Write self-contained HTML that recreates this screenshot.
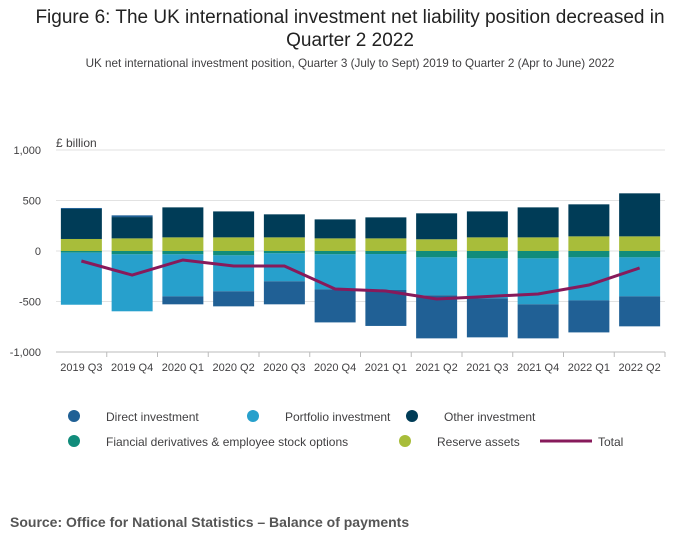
<!DOCTYPE html>
<html><head><meta charset="utf-8"><style>
body{margin:0;width:700px;height:549px;background:#fff;font-family:"Liberation Sans",sans-serif;overflow:hidden}
.t{position:absolute;left:0;width:700px;text-align:center;color:#222}
</style></head><body>
<div class="t" style="top:6px;font-size:19px;line-height:23px">Figure 6: The UK international investment net liability position decreased in<br>Quarter 2 2022</div>
<div class="t" style="top:57px;font-size:11.7px;color:#414042">UK net international investment position, Quarter 3 (July to Sept) 2019 to Quarter 2 (Apr to June) 2022</div>
<svg width="700" height="549" style="position:absolute;left:0;top:0">
<g id="g"></g>
<text x="10" y="527" font-size="14" font-weight="bold" fill="#555">Source: Office for National Statistics – Balance of payments</text>
</svg>
<script>
const categories=["2019 Q3","2019 Q4","2020 Q1","2020 Q2","2020 Q3","2020 Q4","2021 Q1","2021 Q2","2021 Q3","2021 Q4","2022 Q1","2022 Q2"];
const direct=[10,17,-79,-149,-228,-327,-356,-426,-386,-337,-317,-297];
const portfolio=[-515,-564,-416,-356,-277,-347,-356,-376,-396,-455,-426,-386];
const other=[297,211,297,257,228,188,208,257,257,297,317,426];
const derivs=[-17,-33,-33,-43,-23,-33,-30,-63,-73,-73,-63,-63];
const reserves=[119,125,135,135,135,125,125,116,135,135,145,145];
const total=[-99,-238,-89,-149,-149,-376,-396,-475,-450,-426,-337,-168];
const yTicks=[1000,500,0,-500,-1000];
const yTickLabels=["1,000","500","0","-500","-1,000"];
const NS="http://www.w3.org/2000/svg",g=document.getElementById('g');
const L=56,R=665,cw=(R-L)/categories.length,bw=41;
const y=v=>251-v*0.101;
const x=i=>L+cw*i+cw/2;
function mk(t,a){const e=document.createElementNS(NS,t);for(const k in a)e.setAttribute(k,a[k]);g.appendChild(e);return e;}
yTicks.forEach((v,i)=>{
 const ln=mk('line',{x1:L,x2:R,y1:y(v),y2:y(v),stroke:v===-1000?'#bbb':'#e2e2e2','stroke-width':1});
 
 
 const t=mk('text',{x:41,y:y(v)+4,'text-anchor':'end','font-size':11,fill:'#414042'});t.textContent=yTickLabels[i];
 
 
});
const u=mk('text',{x:56,y:147,'font-size':12,fill:'#414042'});u.textContent='£ billion';


const series=[["direct",direct,"#206095"],["portfolio",portfolio,"#27a0cc"],["other",other,"#003c57"],["derivs",derivs,"#118c7b"],["reserves",reserves,"#a8bd3a"]];
const negOrder=["derivs","portfolio","direct","reserves","other"];
const posOrder=["derivs","portfolio","reserves","other","direct"];
categories.forEach((c,i)=>{
 let pos=0,neg=0;
 series.forEach(s=>{});
 const draw=(n,sign)=>{
  const s=series.find(z=>z[0]===n);const v=s[1][i];
  if(sign>0&&v<0)return; if(sign<0&&v>=0)return;
  let a,b;if(v>=0){a=pos;b=pos+v;pos=b;}else{a=neg;b=neg+v;neg=b;}
  const r=mk('rect',{x:x(i)-bw/2,y:Math.min(y(a),y(b)),width:bw,height:Math.abs(y(a)-y(b)),fill:s[2]});
  
  
 };
 negOrder.forEach(n=>draw(n,-1));
 posOrder.forEach(n=>draw(n,1));
 const t=mk('text',{x:x(i),y:371,'text-anchor':'middle','font-size':11,fill:'#414042'});t.textContent=c;
 
 
 const tk=mk('line',{x1:L+cw*(i+1),x2:L+cw*(i+1),y1:352,y2:357,stroke:'#bbb'});
 
 
});
const p=mk('polyline',{points:total.map((v,i)=>x(i)+','+y(v)).join(' '),fill:'none',stroke:'#871a5b','stroke-width':3});


const leg=[["Direct investment","#206095",74,416,'c'],["Portfolio investment","#27a0cc",253,416,'c'],["Other investment","#003c57",412,416,'c'],["Fiancial derivatives & employee stock options","#118c7b",74,441,'c'],["Reserve assets","#a8bd3a",405,441,'c'],["Total","#871a5b",566,441,'l']];
leg.forEach(l=>{
 let m;
 if(l[4]==='c'){m=mk('circle',{cx:l[2],cy:l[3],r:6,fill:l[1]});}
 else{m=mk('line',{x1:540,x2:592,y1:l[3],y2:l[3],stroke:l[1],'stroke-width':3});}
 
 
 const t=mk('text',{x:l[4]==='c'?l[2]+32:598,y:l[3]+5,'font-size':12,fill:'#414042'});t.textContent=l[0];
 
 
});
</script>
</body></html>
